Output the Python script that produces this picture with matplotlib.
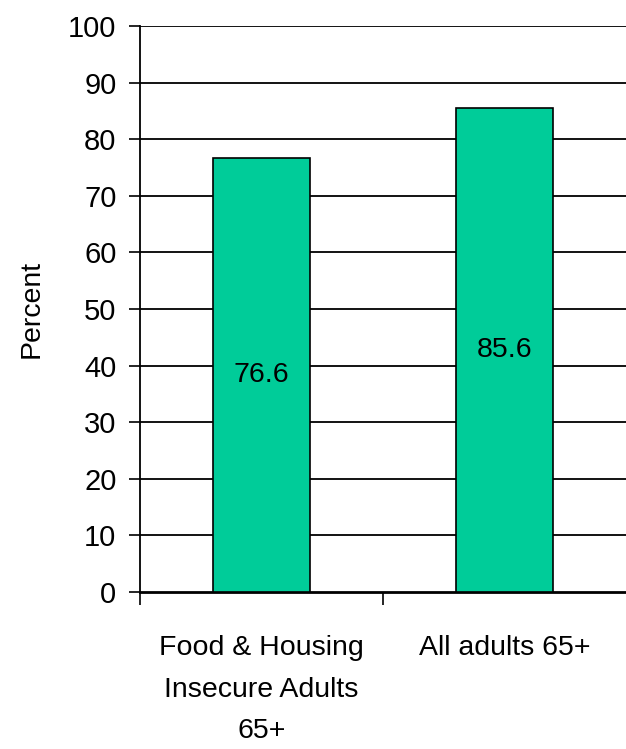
import matplotlib
matplotlib.use("Agg")
import matplotlib.pyplot as plt
import numpy as np

# ---------- data ----------
categories = ["Food & Housing\nInsecure Adults\n65+", "All adults 65+"]
values = [76.6, 85.6]
yticks = list(range(0, 101, 10))

plt.rcParams['font.family'] = ['Liberation Sans Narrow', 'Liberation Sans', 'DejaVu Sans']

fig = plt.figure(figsize=(6.26, 7.49), dpi=100)
ax = fig.add_axes([140 / 626, 1 - 592 / 749, 1 - 140 / 626, (592 - 26) / 749])

x = np.arange(len(categories))
ax.bar(x, values, width=0.4, color="#00CC99", edgecolor="black", linewidth=1.2, zorder=3)

for xi, v in zip(x, values):
    ax.text(xi, v / 2, f"{v}", ha="center", va="center", fontsize=20.5, zorder=4)

ax.set_ylim(0, 100)
ax.set_xlim(-0.5, 1.5)
ax.set_yticks(yticks)
ax.tick_params(axis="y", labelsize=21, length=8, width=1.2, direction="out", pad=9)
for yv in yticks[1:]:
    ax.axhline(yv, color="black", linewidth=1.3, zorder=1)

# boundary ticks + centered labels
ax.set_xticks([-0.5, 0.5])
ax.set_xticklabels([])
ax.tick_params(axis="x", which="major", length=9, width=1.2, direction="out")
ax.set_xticks(x, minor=True)
ax.set_xticklabels(categories, minor=True, fontsize=20.5, linespacing=1.78)
ax.tick_params(axis="x", which="minor", length=0, pad=31)

ax.spines["top"].set_visible(False)
ax.spines["right"].set_visible(False)
ax.spines["left"].set_linewidth(1.3)
ax.spines["bottom"].set_linewidth(2)

ax.set_ylabel("Percent", fontsize=20.5, labelpad=17)

fig.savefig("out.png", dpi=100)
